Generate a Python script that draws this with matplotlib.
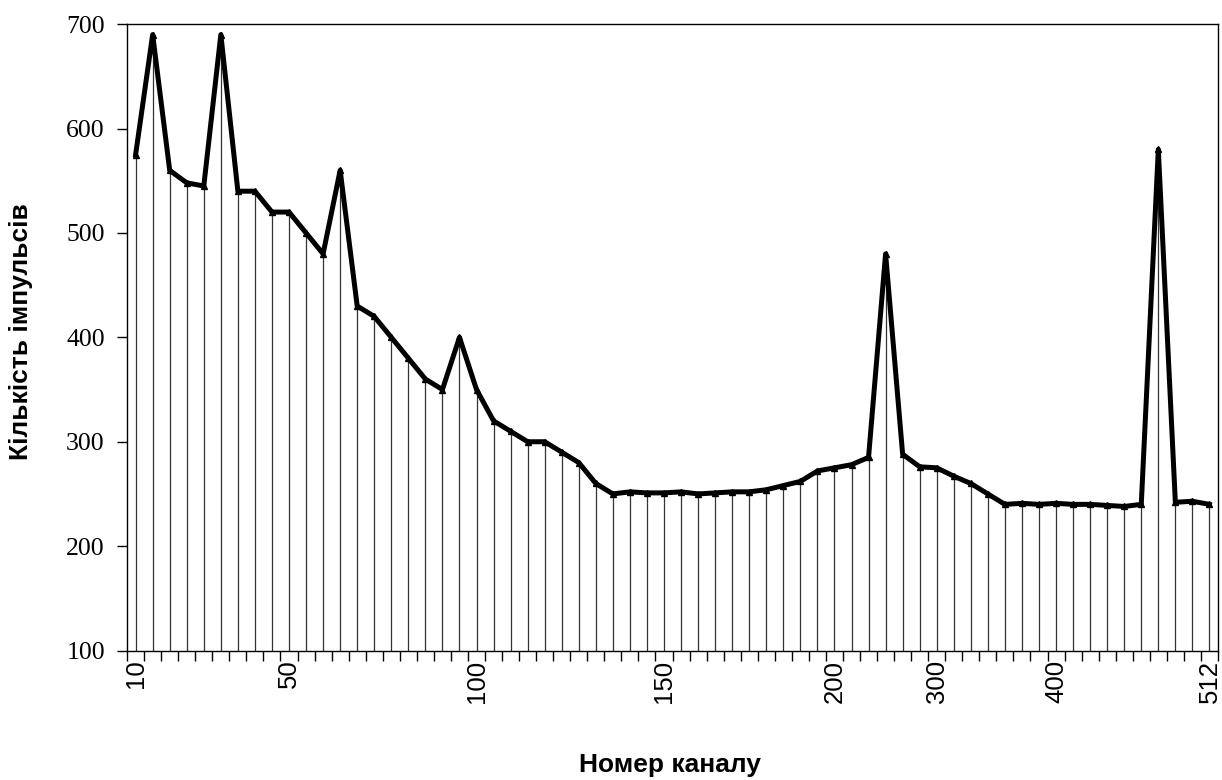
import numpy as np
import matplotlib
matplotlib.use("Agg")
import matplotlib.pyplot as plt

# channel counts, one value per category
counts = [575, 690, 560, 548, 545, 690, 540, 540, 520, 520,
          500, 480, 560, 430, 420, 400, 380, 360, 350, 400,
          350, 320, 310, 300, 300, 290, 280, 260, 250, 252,
          251, 251, 252, 250, 251, 252, 252, 254, 258, 262,
          272, 275, 278, 285, 480, 288, 276, 275, 267, 260,
          250, 240, 241, 240, 241, 240, 240, 239, 238, 240,
          580, 242, 243, 240]

# category labels shown on the axis (index -> text)
label_pos = [0, 9, 20, 31, 41, 47, 54, 63]
label_txt = ["10", "50", "100", "150", "200", "300", "400", "512"]

y_ticks = [100, 200, 300, 400, 500, 600, 700]

x = np.arange(len(counts))

fig = plt.figure(figsize=(12.22, 7.8), dpi=100)
ax = fig.add_axes([0.104, 0.166, 0.8927, 0.803])

ax.vlines(x, 100, counts, color="#333333", linewidth=0.9, zorder=1)
ax.plot(x, counts, color="black", linewidth=3.6, marker="^", markersize=4,
        zorder=3)

ax.set_xlim(-0.5, len(counts) - 0.5)
ax.set_ylim(100, 700)

# tick marks between categories, labels on categories
ax.set_xticks(np.arange(len(counts) + 1) - 0.5)
ax.set_xticklabels([])
ax.tick_params(axis="x", which="major", direction="out", length=7, width=1)
ax.set_xticks(label_pos, label_txt, minor=True)
ax.tick_params(axis="x", which="minor", length=0, pad=6.5, labelsize=18.5,
               labelrotation=90)
for t in ax.get_xticklabels(minor=True):
    t.set_family("Liberation Sans")

ax.set_yticks(y_ticks)
ax.tick_params(axis="y", direction="out", length=7, width=1, pad=9)
for t in ax.get_yticklabels():
    t.set_family("Liberation Serif")
    t.set_fontsize(18.5)

for s in ax.spines.values():
    s.set_linewidth(1)
    s.set_color("black")

fig.text(0.548, 0.019, "Номер каналу", ha="center", va="center",
         fontsize=19, fontweight="bold", family="Liberation Sans")
fig.text(0.017, 0.575, "Кількість імпульсів", ha="center", va="center",
         rotation=90, fontsize=19, fontweight="bold", family="Liberation Sans")

fig.savefig("out.png", dpi=100)
